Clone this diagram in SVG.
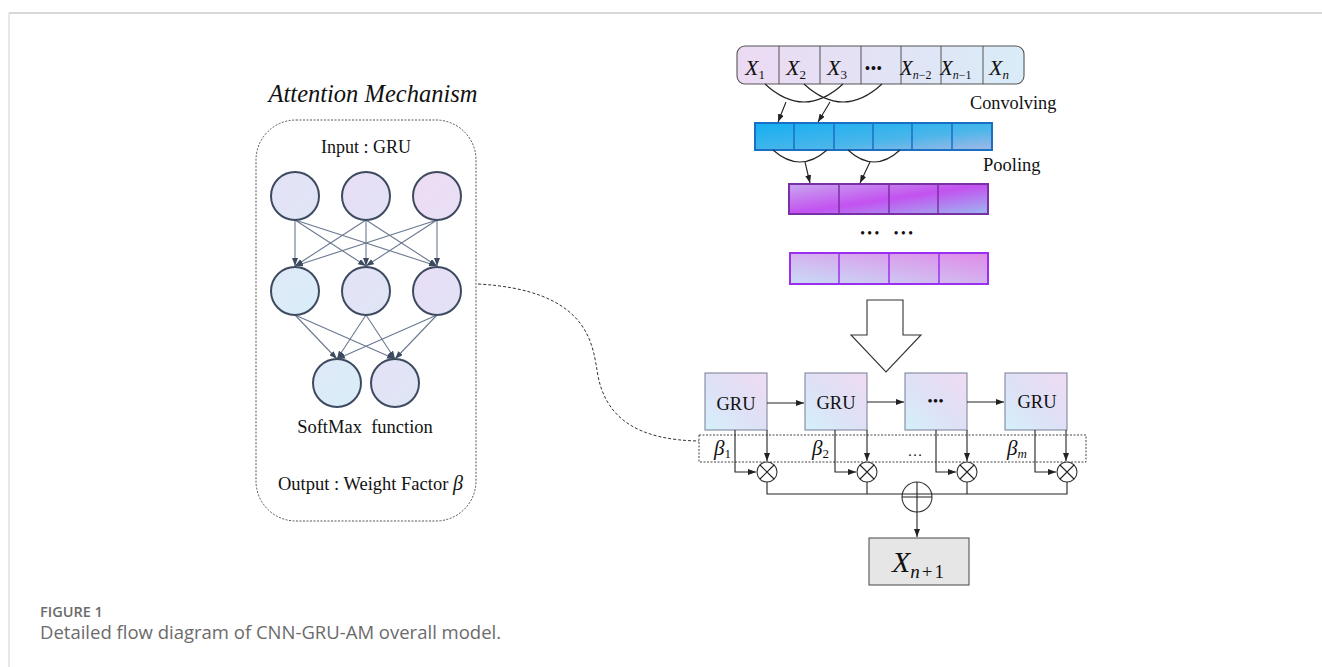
<svg xmlns="http://www.w3.org/2000/svg" width="1322" height="667" viewBox="0 0 1322 667">
  <style>
    .serif { font-family: "Liberation Serif", "Times New Roman", serif; fill: #111; }
    .it { font-style: italic; }
    .cap { font-family: "Open Sans", "Liberation Sans", sans-serif; fill: #6b6b6b; }
    .nn-line { stroke: #6a7890; stroke-width: 1.1; fill: none; }
    .nn-node { stroke: #3d4a60; stroke-width: 2; }
    .wire { stroke: #222; stroke-width: 1.1; fill: none; }
    .gru { stroke: #8a90a6; stroke-width: 1.2; fill: url(#gruFill); }
    .op { fill: #fff; stroke: #333; stroke-width: 1.1; }
  </style>
  <defs>
    <marker id="ah" viewBox="0 0 8 6" refX="8" refY="3" markerWidth="8" markerHeight="6" markerUnits="userSpaceOnUse" orient="auto">
      <path d="M0,0 L8,3 L0,6 z" fill="#222"/>
    </marker>
    <marker id="ahn" viewBox="0 0 8 6" refX="8" refY="3" markerWidth="8" markerHeight="6" markerUnits="userSpaceOnUse" orient="auto">
      <path d="M0,0 L8,3 L0,6 z" fill="#3d4a60"/>
    </marker>
    <linearGradient id="seqFill" gradientUnits="userSpaceOnUse" x1="737" y1="0" x2="1024" y2="0">
      <stop offset="0" stop-color="#ecdaf3"/>
      <stop offset="1" stop-color="#d9ecf8"/>
    </linearGradient>
    <linearGradient id="convFill" x1="0" y1="0" x2="1" y2="1">
      <stop offset="0" stop-color="#14aff2"/>
      <stop offset="0.6" stop-color="#4ab6ea"/>
      <stop offset="1" stop-color="#a4b8e6"/>
    </linearGradient>
    <linearGradient id="poolFill" x1="0" y1="0" x2="1" y2="1">
      <stop offset="0" stop-color="#c9a8f0"/>
      <stop offset="0.5" stop-color="#c352f0"/>
      <stop offset="1" stop-color="#9cb8f0"/>
    </linearGradient>
    <linearGradient id="pool2Fill" x1="0" y1="1" x2="1" y2="0">
      <stop offset="0" stop-color="#c8dcf6"/>
      <stop offset="1" stop-color="#e08ae8"/>
    </linearGradient>
    <linearGradient id="gruFill" x1="0" y1="1" x2="1" y2="0">
      <stop offset="0" stop-color="#d4f0fa"/>
      <stop offset="0.5" stop-color="#dfe0f6"/>
      <stop offset="1" stop-color="#f0dcf2"/>
    </linearGradient>
    <linearGradient id="nA" x1="0" y1="0" x2="1" y2="1">
      <stop offset="0" stop-color="#e4e2f6"/><stop offset="1" stop-color="#dfe6f6"/>
    </linearGradient>
    <linearGradient id="nB" x1="0" y1="0" x2="1" y2="1">
      <stop offset="0" stop-color="#e8def5"/><stop offset="1" stop-color="#e2e2f6"/>
    </linearGradient>
    <linearGradient id="nC" x1="0" y1="0" x2="1" y2="1">
      <stop offset="0" stop-color="#eedcf3"/><stop offset="1" stop-color="#e8e0f5"/>
    </linearGradient>
    <linearGradient id="nD" x1="0" y1="0" x2="1" y2="1">
      <stop offset="0" stop-color="#e0e8f8"/><stop offset="1" stop-color="#d8eef8"/>
    </linearGradient>
  </defs>

  <rect width="1322" height="667" fill="#fff"/>

  <!-- page frame -->
  <line x1="9" y1="13" x2="1322" y2="13" stroke="#d8d8d8" stroke-width="2"/>
  <line x1="9" y1="13" x2="9" y2="667" stroke="#d0d0d0" stroke-width="1"/>

  <!-- attention mechanism panel -->
  <g id="attention">
    <text class="serif it" x="373" y="102" font-size="24.5" text-anchor="middle">Attention Mechanism</text>
    <rect x="256" y="120" width="220" height="401" rx="40" fill="none" stroke="#555" stroke-width="1" stroke-dasharray="2 1.5"/>
    <text class="serif" x="366" y="153" font-size="18" text-anchor="middle">Input : GRU</text>

    <g id="nn-links">
      <line class="nn-line" x1="295" y1="220" x2="295" y2="266" marker-end="url(#ahn)"/>
      <line class="nn-line" x1="295" y1="220" x2="366" y2="266" marker-end="url(#ahn)"/>
      <line class="nn-line" x1="295" y1="220" x2="437" y2="266" marker-end="url(#ahn)"/>
      <line class="nn-line" x1="366" y1="220" x2="295" y2="266" marker-end="url(#ahn)"/>
      <line class="nn-line" x1="366" y1="220" x2="366" y2="266" marker-end="url(#ahn)"/>
      <line class="nn-line" x1="366" y1="220" x2="437" y2="266" marker-end="url(#ahn)"/>
      <line class="nn-line" x1="437" y1="220" x2="295" y2="266" marker-end="url(#ahn)"/>
      <line class="nn-line" x1="437" y1="220" x2="366" y2="266" marker-end="url(#ahn)"/>
      <line class="nn-line" x1="437" y1="220" x2="437" y2="266" marker-end="url(#ahn)"/>
      <line class="nn-line" x1="295" y1="315" x2="337" y2="359" marker-end="url(#ahn)"/>
      <line class="nn-line" x1="295" y1="315" x2="395" y2="359" marker-end="url(#ahn)"/>
      <line class="nn-line" x1="366" y1="315" x2="337" y2="359" marker-end="url(#ahn)"/>
      <line class="nn-line" x1="366" y1="315" x2="395" y2="359" marker-end="url(#ahn)"/>
      <line class="nn-line" x1="437" y1="315" x2="337" y2="359" marker-end="url(#ahn)"/>
      <line class="nn-line" x1="437" y1="315" x2="395" y2="359" marker-end="url(#ahn)"/>
    </g>

    <g id="nn-nodes">
      <circle class="nn-node" cx="295" cy="196" r="24" fill="url(#nA)"/>
      <circle class="nn-node" cx="366" cy="196" r="24" fill="url(#nB)"/>
      <circle class="nn-node" cx="437" cy="196" r="24" fill="url(#nC)"/>
      <circle class="nn-node" cx="295" cy="291" r="24" fill="url(#nD)"/>
      <circle class="nn-node" cx="366" cy="291" r="24" fill="url(#nA)"/>
      <circle class="nn-node" cx="437" cy="291" r="24" fill="url(#nB)"/>
      <circle class="nn-node" cx="337" cy="383" r="24" fill="url(#nD)"/>
      <circle class="nn-node" cx="395" cy="383" r="24" fill="url(#nA)"/>
    </g>

    <text class="serif" x="365" y="433" font-size="18.5" text-anchor="middle" xml:space="preserve">SoftMax  function</text>
    <text class="serif" x="278" y="490" font-size="18.5">Output : Weight Factor <tspan class="it" font-size="20">β</tspan></text>
  </g>

  <!-- input sequence -->
  <g id="sequence">
    <rect x="737" y="46" width="287" height="38" rx="8" fill="url(#seqFill)" stroke="#555" stroke-width="1.1"/>
    <g stroke="#555" stroke-width="1">
      <line x1="779" y1="46" x2="779" y2="84"/>
      <line x1="820" y1="46" x2="820" y2="84"/>
      <line x1="861" y1="46" x2="861" y2="84"/>
      <line x1="901" y1="46" x2="901" y2="84"/>
      <line x1="941" y1="46" x2="941" y2="84"/>
      <line x1="983" y1="46" x2="983" y2="84"/>
    </g>
    <g class="serif it" font-size="22">
      <text x="745" y="75">X<tspan font-size="13" dy="4" font-style="normal">1</tspan></text>
      <text x="786" y="75">X<tspan font-size="13" dy="4" font-style="normal">2</tspan></text>
      <text x="827" y="75">X<tspan font-size="13" dy="4" font-style="normal">3</tspan></text>
      <text x="865" y="73" font-size="14" font-style="normal" font-weight="bold" letter-spacing="1">•••</text>
      <text x="900" y="75" font-size="21">X<tspan font-size="12" dy="4">n</tspan><tspan font-size="12" font-style="normal">−2</tspan></text>
      <text x="940" y="75" font-size="21">X<tspan font-size="12" dy="4">n</tspan><tspan font-size="12" font-style="normal">−1</tspan></text>
      <text x="989" y="75">X<tspan font-size="13" dy="4">n</tspan></text>
    </g>
  </g>

  <!-- convolution layer -->
  <g id="conv-layer">
    <rect x="755" y="123" width="237" height="27" fill="url(#convFill)" stroke="#1a6fc4" stroke-width="2"/>
    <g stroke="#1a6fc4" stroke-width="1.5">
      <line x1="794" y1="123" x2="794" y2="150"/>
      <line x1="834" y1="123" x2="834" y2="150"/>
      <line x1="873" y1="123" x2="873" y2="150"/>
      <line x1="912" y1="123" x2="912" y2="150"/>
      <line x1="952" y1="123" x2="952" y2="150"/>
    </g>
    <text class="serif" x="970" y="109" font-size="18.3">Convolving</text>
  </g>

  <!-- pooling layers -->
  <g id="pool-layer-1">
    <rect x="789" y="184" width="199" height="30" fill="url(#poolFill)" stroke="#7a2fa4" stroke-width="2"/>
    <g stroke="#7a2fa4" stroke-width="1.5">
      <line x1="839" y1="184" x2="839" y2="214"/>
      <line x1="889" y1="184" x2="889" y2="214"/>
      <line x1="938" y1="184" x2="938" y2="214"/>
    </g>
    <text class="serif" x="983" y="171" font-size="18.5">Pooling</text>
  </g>
  <text class="serif" x="888" y="237" font-size="12" text-anchor="middle" font-weight="bold" xml:space="preserve" letter-spacing="3">•••  •••</text>
  <g id="pool-layer-2">
    <rect x="790" y="253" width="198" height="31" fill="url(#pool2Fill)" stroke="#9a2ff0" stroke-width="2"/>
    <g stroke="#9a2ff0" stroke-width="1.5">
      <line x1="839" y1="253" x2="839" y2="284"/>
      <line x1="889" y1="253" x2="889" y2="284"/>
      <line x1="939" y1="253" x2="939" y2="284"/>
    </g>
  </g>

  <!-- hollow down arrow -->
  <g id="flow-arrow">
    <path d="M867,300 L903,300 L903,335 L921,335 L886,372 L851,335 L867,335 Z" fill="#fff" stroke="#333" stroke-width="1.1"/>
  </g>

  <!-- GRU chain -->
  <g id="gru-1"><rect class="gru" x="705" y="373" width="62" height="57"/><text class="serif" x="736" y="410" font-size="18.5" text-anchor="middle">GRU</text></g>
  <g id="gru-2"><rect class="gru" x="805" y="373" width="62" height="57"/><text class="serif" x="836" y="409" font-size="18.5" text-anchor="middle">GRU</text></g>
  <g id="gru-3"><rect class="gru" x="905" y="373" width="62" height="57"/><text class="serif" x="936" y="405" font-size="13" text-anchor="middle" font-weight="bold" letter-spacing="1">•••</text></g>
  <g id="gru-4"><rect class="gru" x="1005" y="373" width="62" height="57"/><text class="serif" x="1037" y="408" font-size="18.5" text-anchor="middle">GRU</text></g>

  <!-- attention weight strip -->
  <g id="weights">
    <rect x="699" y="435" width="387" height="27" fill="none" stroke="#444" stroke-width="1" stroke-dasharray="2 1.5"/>
    <text class="serif it" x="714" y="455" font-size="21">β<tspan font-size="13" dy="3" font-style="normal">1</tspan></text>
    <text class="serif it" x="812" y="455" font-size="21">β<tspan font-size="13" dy="3" font-style="normal">2</tspan></text>
    <text class="serif" x="915" y="456" font-size="15" text-anchor="middle">…</text>
    <text class="serif it" x="1007" y="455" font-size="21">β<tspan font-size="13" dy="3">m</tspan></text>
  </g>

  <!-- operators -->
  <g id="mul-1"><circle class="op" cx="767" cy="472" r="10"/><path class="wire" d="M760,465 L774,479 M774,465 L760,479"/></g>
  <g id="mul-2"><circle class="op" cx="867" cy="472" r="10"/><path class="wire" d="M860,465 L874,479 M874,465 L860,479"/></g>
  <g id="mul-3"><circle class="op" cx="967" cy="472" r="10"/><path class="wire" d="M960,465 L974,479 M974,465 L960,479"/></g>
  <g id="mul-4"><circle class="op" cx="1067" cy="472" r="10"/><path class="wire" d="M1060,465 L1074,479 M1074,465 L1060,479"/></g>
  <g id="sum"><circle class="op" cx="917" cy="497" r="15"/><path class="wire" d="M902,497 L932,497 M917,482 L917,512"/></g>

  <!-- output -->
  <g id="output">
    <rect x="869" y="538" width="100" height="47" fill="#e6e6e6" stroke="#555" stroke-width="1.1"/>
    <text class="serif it" x="892" y="572" font-size="30">X<tspan font-size="19" dy="6">n</tspan><tspan font-size="19" font-style="normal" dx="2">+</tspan><tspan font-size="19" font-style="normal" dx="2">1</tspan></text>
  </g>

  <!-- connectors -->
  <g id="connectors">
    <!-- convolution / pooling receptive fields -->
    <path class="wire" stroke="#444" d="M765,84 Q804,120 843,84"/>
    <path class="wire" stroke="#444" d="M804,84 Q843,120 882,84"/>
    <line class="wire" x1="786" y1="102" x2="778" y2="122" marker-end="url(#ah)"/>
    <line class="wire" x1="830" y1="102" x2="818" y2="122" marker-end="url(#ah)"/>
    <path class="wire" stroke="#444" d="M773,150 Q800,174 827,150"/>
    <path class="wire" stroke="#444" d="M848,150 Q874,174 900,150"/>
    <line class="wire" x1="805" y1="162" x2="810" y2="183" marker-end="url(#ah)"/>
    <line class="wire" x1="870" y1="162" x2="860" y2="183" marker-end="url(#ah)"/>

    <!-- recurrent links -->
    <line class="wire" x1="767" y1="403" x2="804" y2="403" marker-end="url(#ah)"/>
    <line class="wire" x1="867" y1="402" x2="904" y2="402" marker-end="url(#ah)"/>
    <line class="wire" x1="967" y1="402" x2="1004" y2="402" marker-end="url(#ah)"/>

    <!-- hidden states into weighting -->
    <line class="wire" x1="767" y1="430" x2="767" y2="461" marker-end="url(#ah)"/>
    <polyline class="wire" points="735,430 735,472 756,472" marker-end="url(#ah)"/>
    <line class="wire" x1="867" y1="430" x2="867" y2="461" marker-end="url(#ah)"/>
    <polyline class="wire" points="835,430 835,472 856,472" marker-end="url(#ah)"/>
    <line class="wire" x1="967" y1="430" x2="967" y2="461" marker-end="url(#ah)"/>
    <polyline class="wire" points="936,430 936,472 956,472" marker-end="url(#ah)"/>
    <line class="wire" x1="1066" y1="430" x2="1066" y2="461" marker-end="url(#ah)"/>
    <polyline class="wire" points="1035,430 1035,472 1056,472" marker-end="url(#ah)"/>

    <!-- summation bus -->
    <polyline class="wire" points="767,482 767,494 1067,494 1067,482"/>
    <line class="wire" x1="867" y1="482" x2="867" y2="494"/>
    <line class="wire" x1="967" y1="482" x2="967" y2="494"/>
    <line class="wire" x1="917" y1="512" x2="917" y2="537" marker-end="url(#ah)"/>

    <!-- attention panel feeds the weight strip -->
    <path d="M478,284 C585,290 592,340 597,370 C604,420 640,440 699,441" fill="none" stroke="#333" stroke-width="1" stroke-dasharray="3 2"/>
  </g>

  <!-- caption -->
  <text class="cap" x="40" y="617" font-size="14.5" font-weight="600">FIGURE 1</text>
  <text class="cap" x="40" y="639" font-size="18.5">Detailed flow diagram of CNN-GRU-AM overall model.</text>
</svg>
